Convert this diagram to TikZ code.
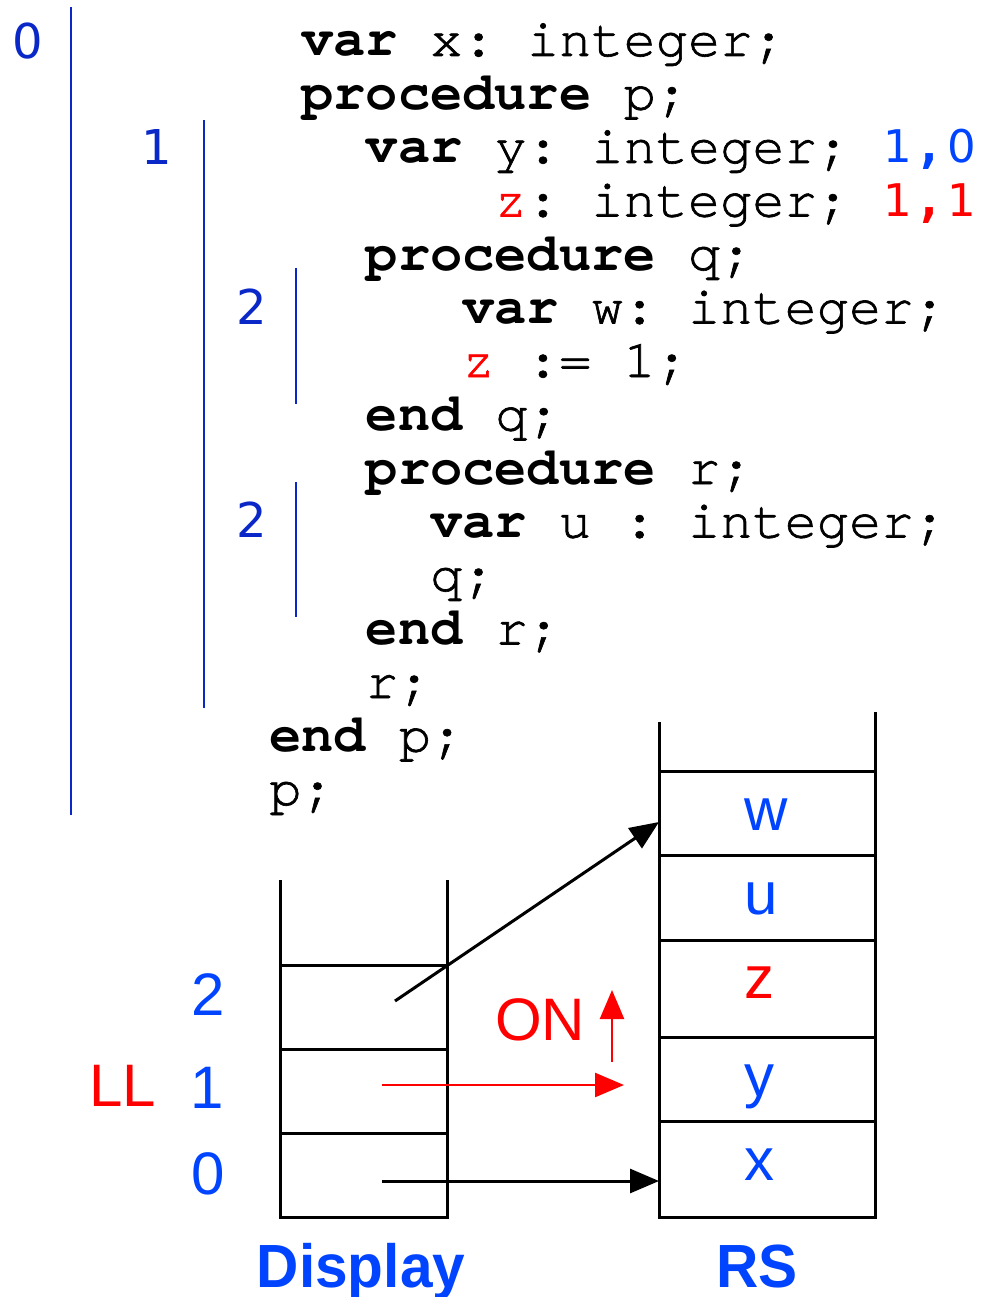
\documentclass[tikz,border=0pt]{standalone}
\usepackage{fontspec}
\usetikzlibrary{arrows.meta}
\setmonofont{TeX Gyre Cursor}[UprightFeatures={FakeBold=1.2}]
\newfontfamily\labelfont{Liberation Sans}
\newfontfamily\levelfont{DejaVu Sans}
\newfontfamily\sepfont{DejaVu Sans Mono}
\newfontfamily\titlefont[FakeStretch=0.96]{Liberation Sans Bold}
\definecolor{lvlblue}{RGB}{10,40,200}
\definecolor{lblblue}{RGB}{0,68,255}
\definecolor{lblred}{RGB}{255,0,0}
\newcommand{\codefont}{\ttfamily\fontsize{53.7}{54}\selectfont}
\newcommand{\kw}[1]{\textbf{#1}}
% one character cell of the code grid, set in a sans face
\newcommand{\dg}[1]{\makebox[32.2pt]{\levelfont\fontsize{45}{45}\selectfont #1}}
\newcommand{\sep}{\makebox[32.2pt]{\sepfont\bfseries\fontsize{50}{50}\selectfont ,}}
\begin{document}
\begin{tikzpicture}[x=1pt,y=-1pt,
  code/.style={anchor=base west,inner sep=0pt,font=\codefont},
  lvlnum/.style={anchor=base,inner sep=0pt,font=\levelfont\fontsize{48}{48}\selectfont,text=lvlblue},
  lvlbar/.style={draw=lvlblue,line width=2pt},
  frame/.style={draw=black,line width=3pt},
  cell/.style={anchor=base west,inner sep=0pt,font=\labelfont\fontsize{60}{60}\selectfont,text=lblblue},
  side/.style={anchor=base,inner sep=0pt,font=\labelfont\fontsize{60}{60}\selectfont,text=lblblue},
  title/.style={anchor=base,inner sep=0pt,font=\titlefont\fontsize{61}{61}\selectfont,text=lblblue},
  blkarrow/.style={draw=black,line width=3pt,-{Triangle[length=29pt,width=24pt]}},
  redarrow/.style={draw=lblred,line width=2.5pt,-{Triangle[length=29pt,width=24pt]}}]
\useasboundingbox (0,0) rectangle (986,1297);

% ---- program text ----
\node[code] (c1)  at (301.2,56)  {\kw{var} x: integer;};
\node[code] (c2)  at (301.2,109.5) {\kw{procedure} p;};
\node[code] (c3)  at (365.6,163) {\kw{var} y: integer; \textcolor{lblblue}{\dg{1}\sep\dg{0}}};
\node[code] (c4)  at (494.4,216.5) {\textcolor{lblred}{z}: integer; \textcolor{lblred}{\dg{1}\sep\dg{1}}};
\node[code] (c5)  at (365.6,270) {\kw{procedure} q;};
\node[code] (c6)  at (462.2,323.5) {\kw{var} w: integer;};
\node[code] (c7)  at (462.2,377) {\textcolor{lblred}{z} := 1;};
\node[code] (c8)  at (365.6,430.5) {\kw{end} q;};
\node[code] (c9)  at (365.6,484) {\kw{procedure} r;};
\node[code] (c10) at (430.0,537.5) {\kw{var} u : integer;};
\node[code] (c11) at (430.0,591) {q;};
\node[code] (c12) at (365.6,644.5) {\kw{end} r;};
\node[code] (c13) at (365.6,698) {r;};
\node[code] (c14) at (269.0,751.5) {\kw{end} p;};
\node[code] (c15) at (269.0,805) {p;};

% ---- nesting levels ----
\node[lvlnum] (n0)  at (28,59)   {0};
\node[lvlnum] (n1)  at (157,165) {1};
\node[lvlnum] (n2q) at (252,324) {2};
\node[lvlnum] (n2r) at (252,537) {2};
\draw[lvlbar] (71,7) -- (71,815);
\draw[lvlbar] (204,120) -- (204,708);
\draw[lvlbar] (296,268) -- (296,404);
\draw[lvlbar] (296,482) -- (296,617);

% ---- display ----
\draw[frame] (280,880) -- (280,1217) -- (447,1217) -- (447,880);
\draw[frame] (280,965) -- (447,965);
\draw[frame] (280,1049) -- (447,1049);
\draw[frame] (280,1133) -- (447,1133);
\node[side] (d2) at (208,1015) {2};
\node[side] (d1) at (207,1108) {1};
\node[side] (d0) at (208,1194) {0};
\node[side,text=lblred] (ll) at (123,1106) {LL};
\node[title] (disp) at (361,1287) {Display};

% ---- run-time stack ----
\draw[frame] (659,722) -- (659,1217) -- (875,1217) -- (875,712);
\draw[frame] (659,771) -- (875,771);
\draw[frame] (659,855) -- (875,855);
\draw[frame] (659,940) -- (875,940);
\draw[frame] (659,1037) -- (875,1037);
\draw[frame] (659,1121) -- (875,1121);
\node[cell] (sw) at (744,830)  {w};
\node[cell] (su) at (744,914)  {u};
\node[cell,text=lblred] (sz) at (744,998) {z};
\node[cell] (sy) at (744,1096) {y};
\node[cell] (sx) at (744,1180) {x};
\node[title] (rs) at (757,1287) {RS};

% ---- links ----
\coordinate (p2) at (395,1001);
\coordinate (t2) at (659,822);
\coordinate (p1) at (382,1085);
\coordinate (t1) at (624,1085);
\coordinate (p0) at (382,1181);
\coordinate (t0) at (659,1181);
\coordinate (onb) at (612,1062);
\coordinate (ont) at (612,990);
\draw[blkarrow] (p2) -- (t2);
\draw[redarrow] (p1) -- (t1);
\draw[blkarrow] (p0) -- (t0);
\draw[redarrow] (onb) -- (ont);
\node[side,text=lblred] (on) at (540,1040) {ON};
\end{tikzpicture}
\end{document}
